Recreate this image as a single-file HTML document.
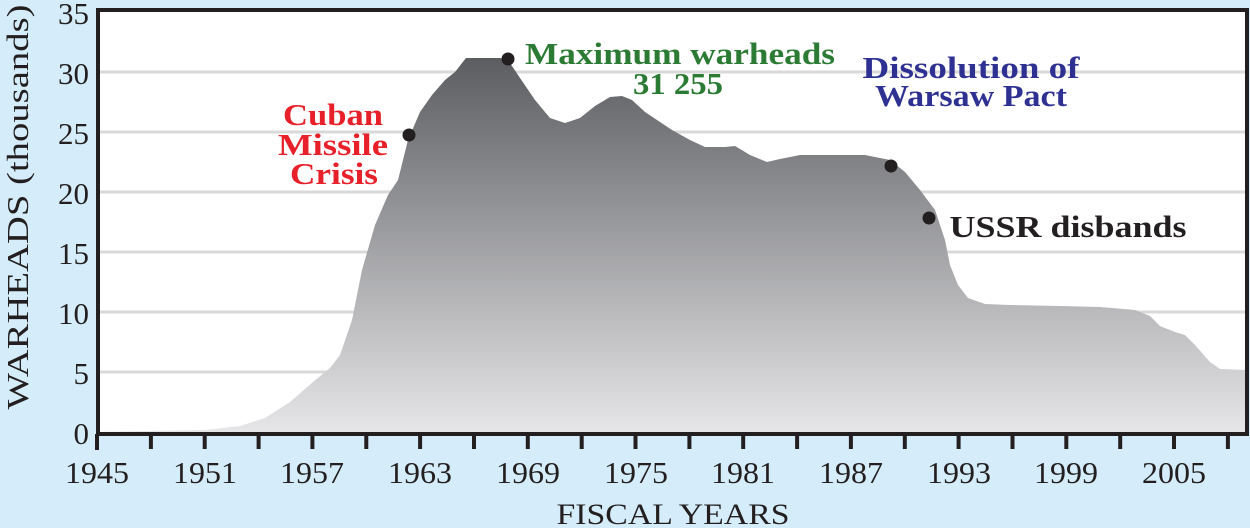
<!DOCTYPE html>
<html><head><meta charset="utf-8"><style>
html,body{margin:0;padding:0;background:#d5edfa;}
svg{display:block;}
</style></head><body>
<svg width="1250" height="528" viewBox="0 0 1250 528" xmlns="http://www.w3.org/2000/svg" font-family="Liberation Serif, serif">
<defs>
<linearGradient id="gr" gradientUnits="userSpaceOnUse" x1="0" y1="58" x2="0" y2="432">
<stop offset="0" stop-color="#5c5d61"/><stop offset="1" stop-color="#e6e6e8"/>
</linearGradient>
</defs>
<rect x="0" y="0" width="1250" height="528" fill="#d5edfa"/>
<rect x="97" y="10" width="1150" height="423" fill="#fff"/>
<g stroke="#d9d9d9" stroke-width="3">
<line x1="99" y1="372" x2="1245" y2="372"/><line x1="99" y1="312" x2="1245" y2="312"/>
<line x1="99" y1="252" x2="1245" y2="252"/><line x1="99" y1="192" x2="1245" y2="192"/>
<line x1="99" y1="132" x2="1245" y2="132"/><line x1="99" y1="72" x2="1245" y2="72"/>
</g>
<path fill="url(#gr)" d="M97,432 L150,431 L205,430 L240,426 L265,418 L290,402 L313,382 L330,368 L340,355 L352,320 L362,270 L375,225 L388,195 L398,180 L408,140 L420,112 L432,95 L445,80 L455,72 L466,58 L500,58 L508,60 L520,78 L535,100 L550,118 L565,123 L580,118 L595,106 L610,97 L622,96 L632,100 L645,112 L657,120 L672,130 L690,140 L705,147 L725,147 L735,146 L750,155 L767,162 L780,159 L800,155 L865,155 L890,160 L905,172 L920,190 L935,210 L945,240 L950,265 L958,285 L968,298 L985,304 L1010,305 L1060,306 L1100,307 L1135,310 L1150,316 L1160,326 L1175,332 L1185,335 L1195,345 L1210,362 L1220,369 L1247,370 L1247,432 Z"/>
<path d="M98,434 L98,10 L1247,10 L1247,434 L97,434" fill="none" stroke="#231f20" stroke-width="4"/>
<g stroke="#231f20" stroke-width="4">
<line x1="97.0" y1="434" x2="97.0" y2="450"/><line x1="150.9" y1="434" x2="150.9" y2="449"/><line x1="204.7" y1="434" x2="204.7" y2="449"/><line x1="258.6" y1="434" x2="258.6" y2="449"/><line x1="312.4" y1="434" x2="312.4" y2="449"/><line x1="366.3" y1="434" x2="366.3" y2="449"/><line x1="420.1" y1="434" x2="420.1" y2="449"/><line x1="474.0" y1="434" x2="474.0" y2="449"/><line x1="527.8" y1="434" x2="527.8" y2="449"/><line x1="581.7" y1="434" x2="581.7" y2="449"/><line x1="635.5" y1="434" x2="635.5" y2="449"/><line x1="689.4" y1="434" x2="689.4" y2="449"/><line x1="743.2" y1="434" x2="743.2" y2="449"/><line x1="797.1" y1="434" x2="797.1" y2="449"/><line x1="850.9" y1="434" x2="850.9" y2="449"/><line x1="904.8" y1="434" x2="904.8" y2="449"/><line x1="958.6" y1="434" x2="958.6" y2="449"/><line x1="1012.5" y1="434" x2="1012.5" y2="449"/><line x1="1066.3" y1="434" x2="1066.3" y2="449"/><line x1="1120.2" y1="434" x2="1120.2" y2="449"/><line x1="1174.0" y1="434" x2="1174.0" y2="449"/><line x1="1227.9" y1="434" x2="1227.9" y2="449"/>
</g>
<g font-size="31" fill="#231f20" text-anchor="middle">
<text x="97" y="483" textLength="64" lengthAdjust="spacingAndGlyphs">1945</text><text x="205" y="483" textLength="64" lengthAdjust="spacingAndGlyphs">1951</text><text x="312" y="483" textLength="64" lengthAdjust="spacingAndGlyphs">1957</text><text x="420" y="483" textLength="64" lengthAdjust="spacingAndGlyphs">1963</text><text x="528" y="483" textLength="64" lengthAdjust="spacingAndGlyphs">1969</text><text x="636" y="483" textLength="64" lengthAdjust="spacingAndGlyphs">1975</text><text x="743" y="483" textLength="64" lengthAdjust="spacingAndGlyphs">1981</text><text x="851" y="483" textLength="64" lengthAdjust="spacingAndGlyphs">1987</text><text x="959" y="483" textLength="64" lengthAdjust="spacingAndGlyphs">1993</text><text x="1066" y="483" textLength="64" lengthAdjust="spacingAndGlyphs">1999</text><text x="1174" y="483" textLength="64" lengthAdjust="spacingAndGlyphs">2005</text>
<text x="673" y="524" font-size="30" textLength="233" lengthAdjust="spacingAndGlyphs">FISCAL YEARS</text>
</g>
<g font-size="31" fill="#231f20" text-anchor="end">
<text x="89" y="444">0</text><text x="89" y="384">5</text><text x="89" y="324">10</text><text x="89" y="264">15</text><text x="89" y="204">20</text><text x="89" y="144">25</text><text x="89" y="84">30</text><text x="89" y="24">35</text>
</g>
<text transform="translate(28,207) rotate(-90)" text-anchor="middle" font-size="31" fill="#231f20" textLength="405" lengthAdjust="spacingAndGlyphs">WARHEADS (thousands)</text>
<g fill="#231f20">
<circle cx="409" cy="135" r="6.5"/><circle cx="508" cy="59" r="6.5"/><circle cx="891" cy="166" r="6.5"/><circle cx="929" cy="218" r="6.5"/>
</g>
<g font-weight="bold" font-size="31" text-anchor="middle">
<text x="333" y="125" fill="#e8202a" textLength="100" lengthAdjust="spacingAndGlyphs">Cuban</text>
<text x="333" y="155" fill="#e8202a" textLength="110" lengthAdjust="spacingAndGlyphs">Missile</text>
<text x="334" y="184" fill="#e8202a" textLength="88" lengthAdjust="spacingAndGlyphs">Crisis</text>
<text x="680" y="64" fill="#2b7b34" textLength="310" lengthAdjust="spacingAndGlyphs">Maximum warheads</text>
<text x="678" y="94" fill="#2b7b34" textLength="90" lengthAdjust="spacingAndGlyphs">31 255</text>
<text x="971" y="78" fill="#2e3192" textLength="217" lengthAdjust="spacingAndGlyphs">Dissolution of</text>
<text x="971" y="106" fill="#2e3192" textLength="192" lengthAdjust="spacingAndGlyphs">Warsaw Pact</text>
<text x="1068" y="237" fill="#231f20" textLength="237" lengthAdjust="spacingAndGlyphs">USSR disbands</text>
</g>
</svg>
</body></html>
